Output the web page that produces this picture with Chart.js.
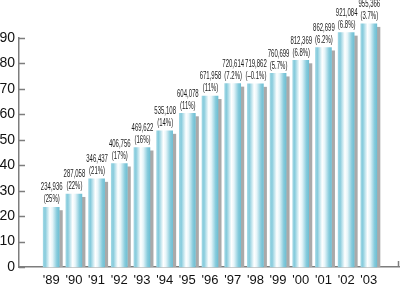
<!DOCTYPE html>
<html>
<head>
<meta charset="utf-8">
<script src="https://cdn.jsdelivr.net/npm/chart.js@4/dist/chart.umd.min.js"></script>
<style>
html,body{margin:0;padding:0;background:#fff;}
#wrap{width:400px;height:286px;position:relative;}
</style>
</head>
<body>
<div id="wrap"><canvas id="c" width="400" height="286"></canvas></div>
<script>
const years = ["'89","'90","'91","'92","'93","'94","'95","'96","'97","'98","'99","'00","'01","'02","'03"];
const totals = [234936,287058,346437,406756,469622,535108,604078,671958,720614,719862,760699,812369,862699,921084,955366];
const growth = ["(25%)","(22%)","(21%)","(17%)","(16%)","(14%)","(11%)","(11%)","(7.2%)","(\u20130.1%)","(5.7%)","(6.8%)","(6.2%)","(6.8%)","(3.7%)"];
const yTicks = [0,10,20,30,40,50,60,70,80,90];
const UNIT = 10000;

const BAR_W = 16;
const AXIS_COLOR = '#7d7d7d';

function barFill(c){
  const s = c.chart.scales.x;
  const cx = s ? s.getPixelForValue(c.dataIndex) : NaN;
  if(!isFinite(cx)) return '#9fd6e4';
  const g = c.chart.ctx.createLinearGradient(cx - BAR_W/2, 0, cx + BAR_W/2, 0);
  g.addColorStop(0, '#9fd7e4');
  g.addColorStop(0.12, '#86cbdc');
  g.addColorStop(0.42, '#ffffff');
  g.addColorStop(0.58, '#e6f5f9');
  g.addColorStop(0.85, '#86cbdc');
  g.addColorStop(1, '#6fbfd3');
  return g;
}

const decor = {
  id: 'decor',
  beforeDatasetsDraw(chart){
    const ctx = chart.ctx;
    const meta = chart.getDatasetMeta(0);
    ctx.save();
    ctx.fillStyle = '#a9a9a9';
    meta.data.forEach(el => {
      const right = el.x + el.width/2;
      ctx.fillRect(right, el.y + 3, 3.5, el.base - el.y - 3);
    });
    ctx.restore();
  },
  afterDatasetsDraw(chart){
    const ctx = chart.ctx;
    const meta = chart.getDatasetMeta(0);
    const ys = chart.scales.y;
    const area = chart.chartArea;
    ctx.save();
    ctx.strokeStyle = AXIS_COLOR;
    ctx.lineWidth = 1.5;
    yTicks.forEach(t => {
      const py = Math.round(ys.getPixelForValue(t)) + 0.5;
      ctx.beginPath();
      ctx.moveTo(area.left, py);
      ctx.lineTo(area.left + 6, py);
      ctx.stroke();
    });
    ctx.beginPath();
    ctx.moveTo(area.right - 0.5, area.bottom);
    ctx.lineTo(area.right - 0.5, area.bottom - 6);
    ctx.stroke();
    ctx.fillStyle = '#1a1a1a';
    ctx.font = '10px "Liberation Sans", Arial, sans-serif';
    ctx.textAlign = 'center';
    ctx.textBaseline = 'middle';
    meta.data.forEach((el, i) => {
      const lines = [totals[i].toLocaleString('en-US'), growth[i]];
      const offs = [19.5, 7.5];
      lines.forEach((txt, k) => {
        ctx.save();
        ctx.translate(el.x + 0.5, el.y - offs[k]);
        ctx.scale(0.6, 1);
        ctx.fillText(txt, 0, 0);
        ctx.restore();
      });
    });
    ctx.restore();
  }
};

new Chart(document.getElementById('c'), {
  type: 'bar',
  data: {
    datasets: [{
      data: totals.map((v, i) => ({x: i, y: v / UNIT})),
      backgroundColor: barFill,
      borderWidth: 0,
      barThickness: BAR_W,
      clip: false
    }]
  },
  plugins: [decor],
  options: {
    responsive: false,
    animation: false,
    events: [],
    layout: {padding: {top: 38, right: 1, left: 0, bottom: 0}},
    plugins: {legend: {display: false}, tooltip: {enabled: false}, title: {display: false}},
    scales: {
      x: {
        type: 'linear',
        offset: false,
        min: -1.42,
        max: 15.33,
        afterBuildTicks(scale){ scale.ticks = years.map((_, i) => ({value: i})); },
        afterFit(scale){ scale.height = 19; },
        grid: {display: false, drawTicks: false, offset: false},
        border: {display: true, color: AXIS_COLOR, width: 1.5},
        ticks: {
          autoSkip: false,
          maxRotation: 0,
          padding: 6,
          color: '#111',
          font: {family: '"Liberation Sans", Arial, sans-serif', size: 13},
          callback: (v) => years[v] ?? ''
        }
      },
      y: {
        min: 0,
        max: 90,
        afterBuildTicks(scale){ scale.ticks = yTicks.map(v => ({value: v})); },
        afterFit(scale){ scale.width = 19; },
        grid: {display: false, drawTicks: false},
        border: {display: true, color: AXIS_COLOR, width: 1.5},
        ticks: {
          padding: 4,
          color: '#111',
          font: {family: '"Liberation Sans", Arial, sans-serif', size: 14}
        }
      }
    }
  }
});
</script>
</body>
</html>
